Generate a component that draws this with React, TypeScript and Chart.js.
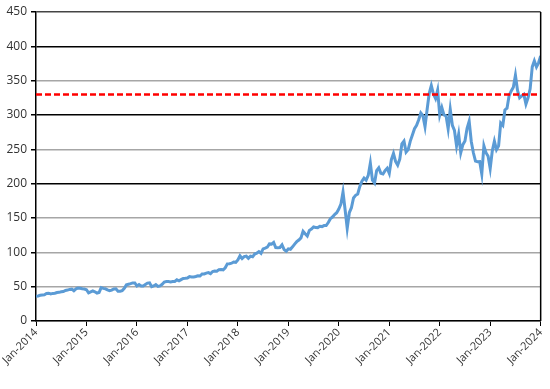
import React, { useEffect, useRef } from "react";
import { Chart, registerables } from "chart.js";

Chart.register(...registerables);

const years = [2014, 2015, 2016, 2017, 2018, 2019, 2020, 2021, 2022, 2023];
const prices2014 = [36.0, 36.5, 37.5, 38.0, 38.3, 40.0, 40.5, 39.5, 40.2, 40.4, 41.5, 41.7, 42.5, 43.0, 44.5, 45.0, 46.0, 46.4, 44.0, 46.9, 48.0, 47.8, 47.0, 46.5];
const prices2015 = [45.5, 41.0, 42.5, 43.8, 42.5, 40.7, 41.5, 48.6, 47.5, 46.9, 45.5, 44.2, 45.0, 46.7, 47.0, 43.5, 43.5, 44.3, 47.5, 52.6, 53.5, 54.4, 55.5, 55.5];
const prices2016 = [51.0, 53.0, 51.0, 50.9, 53.0, 55.2, 55.5, 50.0, 51.0, 53.0, 50.5, 51.2, 53.5, 56.7, 57.5, 57.5, 57.0, 57.6, 57.5, 59.9, 58.5, 60.3, 62.0, 62.1];
const prices2017 = [62.5, 64.6, 64.0, 64.0, 64.8, 65.9, 65.5, 68.5, 68.5, 69.8, 70.5, 68.9, 72.0, 72.7, 72.5, 74.8, 75.0, 74.5, 77.5, 83.2, 83.5, 84.2, 86.0, 85.5];
const prices2018 = [89.0, 95.0, 91.0, 93.8, 94.5, 91.3, 94.5, 93.5, 97.5, 98.8, 101.0, 98.6, 105.0, 106.1, 107.5, 112.3, 112.0, 114.4, 107.0, 106.8, 107.0, 110.9, 104.0, 101.6];
const prices2019 = [105.0, 104.4, 108.0, 112.0, 115.5, 117.9, 121.0, 130.6, 127.0, 123.7, 132.0, 134.0, 137.0, 136.3, 136.0, 137.9, 137.5, 139.0, 139.0, 143.4, 149.0, 151.4, 155.0, 157.7];
const prices2020 = [163.0, 170.2, 188.0, 162.0, 135.0, 157.7, 165.0, 179.2, 183.0, 185.0, 196.0, 203.5, 208.0, 205.0, 212.0, 230.0, 205.0, 201.0, 219.0, 223.0, 215.0, 214.1, 219.0, 222.4];
const prices2021 = [215.0, 235.0, 244.0, 232.4, 227.0, 235.8, 258.0, 262.0, 246.0, 249.7, 262.0, 270.9, 280.0, 284.9, 293.0, 303.0, 299.0, 283.0, 308.0, 331.6, 343.0, 330.6, 324.0, 336.3];
const prices2022 = [300.0, 310.9, 300.0, 298.8, 280.0, 308.3, 285.0, 277.5, 255.0, 271.9, 245.0, 256.8, 262.0, 280.7, 291.0, 261.5, 245.0, 232.9, 232.0, 232.1, 214.0, 255.1, 245.0, 239.8];
const prices2023 = [222.0, 247.8, 262.0, 249.4, 255.0, 288.3, 285.0, 307.3, 310.0, 328.4, 335.0, 340.5, 358.0, 335.9, 325.0, 327.8, 330.0, 315.8, 325.0, 338.1, 370.0, 378.9, 370.0, 376.0];
const finalPrice = 386.0;
const referenceLevel = 330;
const yTicks = [0, 50, 100, 150, 200, 250, 300, 350, 400, 450];
const darkGridValues = [200, 300, 400];

const allPrices = [prices2014, prices2015, prices2016, prices2017, prices2018, prices2019, prices2020, prices2021, prices2022, prices2023];

export default function App() {
  const ref = useRef<HTMLCanvasElement>(null);
  useEffect(() => {
    document.body.style.margin = "0";
    const pts: { x: number; y: number }[] = [];
    allPrices.forEach((arr, yi) => {
      arr.forEach((v, k) => pts.push({ x: years[yi] + k / arr.length, y: v }));
    });
    pts.push({ x: 2024, y: finalPrice });

    const borderPlugin = {
      id: "rightBorder",
      afterDraw(chart: any) {
        const { ctx, chartArea } = chart;
        ctx.save();
        ctx.strokeStyle = "#000";
        ctx.lineWidth = 1.5;
        ctx.beginPath();
        ctx.moveTo(chartArea.right, chartArea.top);
        ctx.lineTo(chartArea.right, chartArea.bottom);
        ctx.stroke();
        ctx.restore();
      },
    };

    const chart = new Chart(ref.current!, {
      type: "line",
      data: {
        datasets: [
          {
            data: pts,
            borderColor: "#5b9bd5",
            borderWidth: 3,
            pointRadius: 0,
            tension: 0,
            order: 2,
          },
          {
            data: [
              { x: 2014, y: referenceLevel },
              { x: 2024, y: referenceLevel },
            ],
            borderColor: "#ff0000",
            borderWidth: 2.5,
            borderDash: [6, 3],
            pointRadius: 0,
            order: 1,
          },
        ],
      },
      options: {
        animation: false,
        responsive: false,
        maintainAspectRatio: false,
        layout: { padding: { top: 12, right: 9, left: 0, bottom: 0 } },
        plugins: { legend: { display: false }, tooltip: { enabled: false } },
        scales: {
          x: {
            type: "linear",
            min: 2014,
            max: 2024,
            afterBuildTicks(scale: any) {
              scale.ticks = years.concat([2024]).map((v) => ({ value: v }));
            },
            afterFit(scale: any) {
              scale.height = 68;
            },
            grid: { drawOnChartArea: false, drawTicks: true, tickLength: 5, tickColor: "#000" },
            border: { color: "#000", width: 1.5 },
            ticks: {
              minRotation: 45,
              maxRotation: 45,
              color: "#333",
              font: { family: "Open Sans", size: 11 },
              padding: 0,
              callback: (v: any) => "Jan-" + v,
            },
          },
          y: {
            min: 0,
            max: 450,
            afterBuildTicks(scale: any) {
              scale.ticks = yTicks.map((v) => ({ value: v }));
            },
            afterFit(scale: any) {
              scale.width = 36;
            },
            grid: {
              color: (c: any) =>
                c.tick && c.tick.value === 450
                  ? "#444"
                  : c.tick && darkGridValues.includes(c.tick.value)
                  ? "#000"
                  : "#a6a6a6",
              lineWidth: 1.5,
              tickLength: 5,
              tickColor: "#000",
            },
            border: { color: "#000", width: 1.5 },
            ticks: {
              color: "#333",
              font: { family: "Open Sans", size: 12 },
              padding: 4,
            },
          },
        },
      },
      plugins: [borderPlugin],
    });
    return () => chart.destroy();
  }, []);
  return <canvas ref={ref} width={550} height={389} style={{ display: "block" }} />;
}
